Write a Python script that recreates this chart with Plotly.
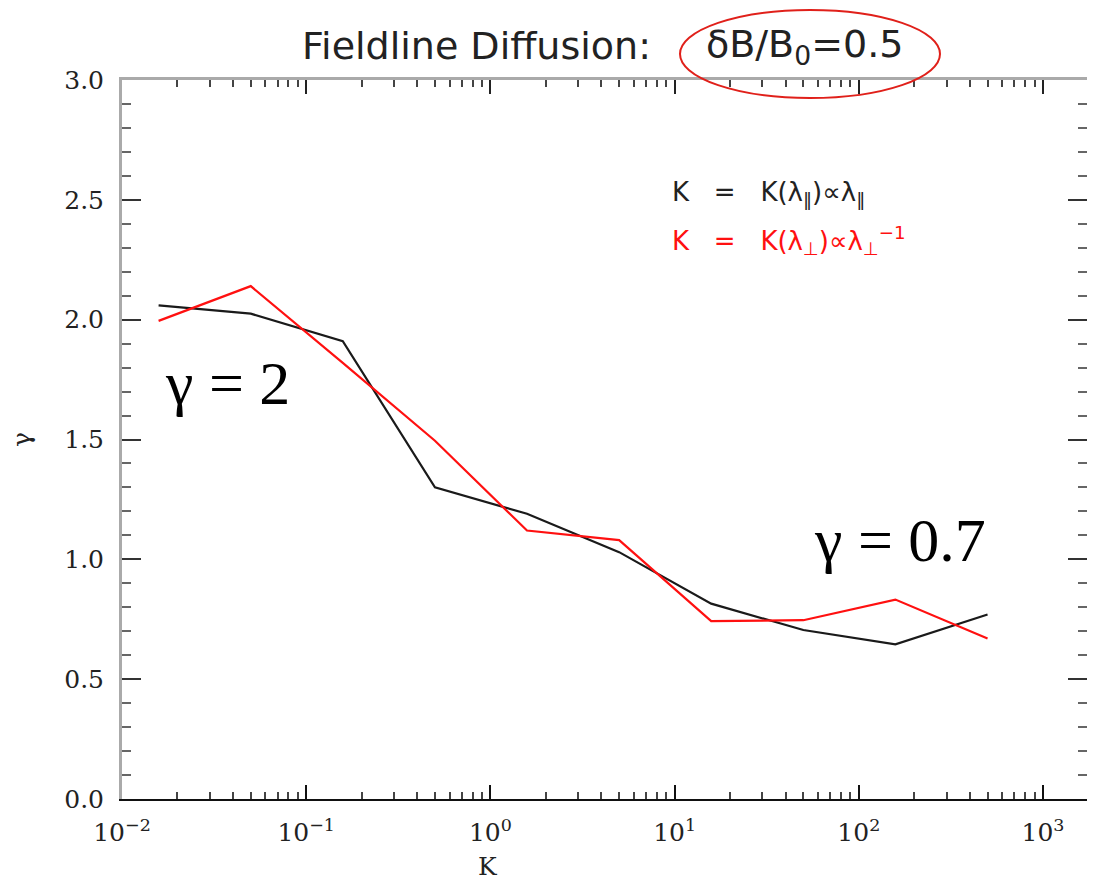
import plotly.graph_objects as go

# ---- data ----
k_values = [0.0158, 0.05, 0.158, 0.5, 1.58, 5.0, 15.8, 50.0, 158.0, 500.0]
gamma_parallel = [2.06, 2.025, 1.91, 1.30, 1.19, 1.03, 0.815, 0.705, 0.645, 0.77]
gamma_perp = [1.995, 2.14, 1.82, 1.495, 1.12, 1.08, 0.742, 0.746, 0.832, 0.67]
y_tick_vals = [0.0, 0.5, 1.0, 1.5, 2.0, 2.5, 3.0]
y_tick_text = ["0.0", "0.5", "1.0", "1.5", "2.0", "2.5", "3.0"]
x_tick_vals = [0.01, 0.1, 1, 10, 100, 1000]
x_tick_text = ["10<sup>−2</sup>", "10<sup>−1</sup>", "10<sup>0</sup>",
               "10<sup>1</sup>", "10<sup>2</sup>", "10<sup>3</sup>"]

# page body has an 8px margin: figure coords = screen coords - 8
OFF = 8
W, H = 1079, 887
L, R, T, B = 114, 0, 72, 96
pw, ph = W - L - R, H - T - B
X_RANGE = [-2, -2 + pw / 184.2]
Y_RANGE = [0, 3]


def px(sx):
    return (sx - OFF - L) / pw


def py(sy):
    return (H - B - (sy - OFF)) / ph


fig = go.Figure()
fig.add_trace(go.Scatter(x=k_values, y=gamma_parallel, mode="lines",
                         line=dict(color="#1a1a1a", width=2.2), showlegend=False))
fig.add_trace(go.Scatter(x=k_values, y=gamma_perp, mode="lines",
                         line=dict(color="#ff1010", width=2.2), showlegend=False))
# empty trace so the mirrored (top/right) axes get drawn
fig.add_trace(go.Scatter(x=[], y=[], xaxis="x2", yaxis="y2", mode="lines",
                         showlegend=False, hoverinfo="skip"))

tickfont = dict(family="DejaVu Serif", size=25, color="#222")
xminor = dict(ticks="inside", ticklen=7, tickcolor="#444", tickwidth=1.5,
              dtick="D1", showgrid=False)
yminor = dict(ticks="inside", ticklen=9, tickcolor="#666", tickwidth=1.5,
              dtick=0.1, showgrid=False)

fig.update_layout(
    width=W, height=H,
    margin=dict(l=L, r=R, t=T, b=B, autoexpand=False),
    paper_bgcolor="white", plot_bgcolor="white",
    xaxis=dict(type="log", range=X_RANGE, automargin=False,
               showline=True, linecolor="#111", linewidth=2,
               ticks="inside", ticklen=14, tickcolor="#111", tickwidth=1.5,
               tickvals=x_tick_vals, ticktext=x_tick_text,
               tickfont=tickfont, ticklabelstandoff=10,
               minor=xminor, showgrid=False, zeroline=False),
    xaxis2=dict(type="log", range=X_RANGE, overlaying="x", side="top",
                anchor="y2", automargin=False,
                showline=True, linecolor="#aaa", linewidth=3,
                ticks="inside", ticklen=14, tickcolor="#222", tickwidth=1.5,
                tickvals=x_tick_vals, showticklabels=False,
                minor=xminor, showgrid=False, zeroline=False),
    yaxis=dict(range=Y_RANGE, automargin=False,
               showline=True, linecolor="#aaa", linewidth=3,
               ticks="inside", ticklen=19, tickcolor="#333", tickwidth=1.5,
               tickvals=y_tick_vals, ticktext=y_tick_text,
               tickfont=tickfont, ticklabelstandoff=10,
               minor=yminor, showgrid=False, zeroline=False),
    yaxis2=dict(range=Y_RANGE, overlaying="y", side="right", anchor="x2",
                automargin=False,
                showline=True, linecolor="#aaa", linewidth=3,
                ticks="inside", ticklen=19, tickcolor="#333", tickwidth=1.5,
                tickvals=y_tick_vals, showticklabels=False,
                minor=yminor, showgrid=False, zeroline=False),
)

# title (two parts to follow the reference's wide letter spacing)
fig.add_annotation(text="Fieldline Diffusion:", xref="paper", yref="paper",
                   x=px(476), y=py(46), xanchor="center", yanchor="middle",
                   showarrow=False,
                   font=dict(family="DejaVu Sans", size=38, color="#222"))
fig.add_annotation(text="δB/B<sub>0</sub>=0.5", xref="paper", yref="paper",
                   x=px(804), y=py(46), xanchor="center", yanchor="middle",
                   showarrow=False,
                   font=dict(family="DejaVu Sans", size=38, color="#222"))

# axis titles
fig.add_annotation(text="K", xref="paper", yref="paper", x=px(488), y=py(866),
                   xanchor="center", yanchor="middle", showarrow=False,
                   font=dict(family="DejaVu Serif", size=25, color="#222"))
fig.add_annotation(text="γ", xref="paper", yref="paper", x=px(21), y=py(440),
                   xanchor="center", yanchor="middle", showarrow=False,
                   textangle=-90,
                   font=dict(family="DejaVu Serif", size=25, color="#222"))

# legend-like labels
sp = "\u00a0\u00a0\u00a0"
fig.add_annotation(text="K" + sp + "=" + sp + "K(λ<sub>\u2016</sub>)∝λ<sub>\u2016</sub>",
                   xref="paper", yref="paper", x=px(670), y=py(193),
                   xanchor="left", yanchor="middle", showarrow=False,
                   font=dict(family="DejaVu Sans", size=26, color="#222"))
fig.add_annotation(text="K" + sp + "=" + sp + "K(λ<sub>⊥</sub>)∝λ<sub>⊥</sub><sup>−1</sup>",
                   xref="paper", yref="paper", x=px(670), y=py(240),
                   xanchor="left", yanchor="middle", showarrow=False,
                   font=dict(family="DejaVu Sans", size=26, color="#ff1010"))

# big gamma annotations
fig.add_annotation(text="γ = 2", xref="paper", yref="paper", x=px(227), y=py(383),
                   xanchor="center", yanchor="middle", showarrow=False,
                   font=dict(family="Liberation Serif", size=62, color="black"))
fig.add_annotation(text="γ = 0.7", xref="paper", yref="paper", x=px(900), y=py(540),
                   xanchor="center", yanchor="middle", showarrow=False,
                   font=dict(family="Liberation Serif", size=62, color="black"))

# red ellipse around the title part
fig.add_shape(type="circle", xref="paper", yref="paper",
              x0=px(680), x1=px(940), y0=py(98), y1=py(10),
              line=dict(color="#e0201a", width=2))

fig.write_html("out.html")
